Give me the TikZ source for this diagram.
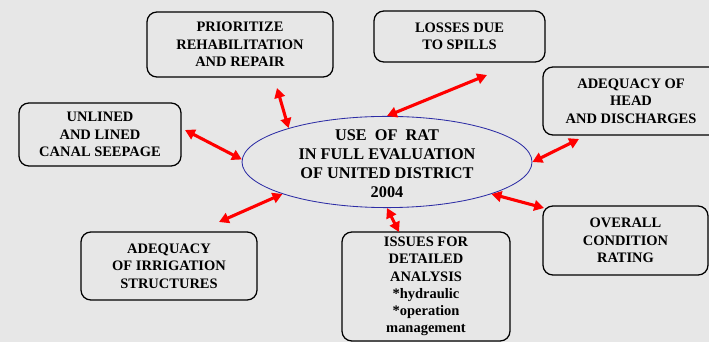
\documentclass[tikz,border=0pt]{standalone}
\usepackage{fontspec}
\setmainfont{Liberation Serif}
\usepackage{tikz}
\usetikzlibrary{arrows.meta,shapes.geometric}

\definecolor{paper}{RGB}{231,231,231}
\definecolor{rim}{RGB}{45,45,165}

\begin{document}
\begin{tikzpicture}[x=1cm,y=1cm,
        topic/.style={draw=black,line width=0.9pt,rounded corners=7pt,align=center,
            inner sep=0pt,font=\fontsize{10.3}{12.3}\selectfont\bfseries},
        hub/.style={ellipse,draw=rim,line width=0.6pt,inner sep=0pt},
        hubtext/.style={align=center,inner sep=0pt,font=\fontsize{11.6}{13.7}\selectfont\bfseries},
        link/.style={red,line width=2.2pt,
            {Triangle[length=7pt,width=7.5pt]}-{Triangle[length=7pt,width=7.5pt]}}]

        % \draw[help lines] (0,0) grid (18,9);

        \def\wide{17.725}
        \def\high{8.55}

        \fill[paper] (0,0) rectangle (\wide,\high);
        \useasboundingbox (0,0) rectangle (\wide,\high);
        \clip (0,0) rectangle (\wide,\high);

        % centre
        \node[hub,minimum width=7.25cm,minimum height=2.28cm] (use) at (9.675,4.5) {};
        \node[hubtext] (usetext) at (9.675,4.46)
            {USE~ OF~ RAT\\IN FULL EVALUATION\\OF UNITED DISTRICT\\2004};

        % boxes round it
        \node[topic,minimum width=4.65cm,minimum height=1.625cm] (prio) at (6.0,7.4375)
            {PRIORITIZE\\REHABILITATION\\AND REPAIR};
        \node[topic,minimum width=4.05cm,minimum height=1.575cm] (seep) at (2.5,5.1875)
            {UNLINED\\AND LINED\\CANAL SEEPAGE};
        \node[topic,minimum width=4.275cm,minimum height=1.275cm] (spill) at (11.4875,7.6375)
            {LOSSES DUE\\TO SPILLS};
        \node[topic,minimum width=4.4cm,minimum height=1.7cm] (head) at (15.775,6.025)
            {ADEQUACY OF\\HEAD\\AND DISCHARGES};
        \node[topic,minimum width=4.4cm,minimum height=1.7cm] (struct) at (4.225,1.9)
            {ADEQUACY\\OF IRRIGATION\\STRUCTURES};
        \node[topic,minimum width=4.2cm,minimum height=2.725cm] (issues) at (10.65,1.3875)
            {ISSUES FOR\\DETAILED\\ANALYSIS\\*hydraulic\\*operation\\management};
        \node[topic,minimum width=4.125cm,minimum height=1.725cm] (rating) at (15.6375,2.5375)
            {OVERALL\\CONDITION\\RATING};

        % free ends of the arrows
        \coordinate (tprio) at (6.925,6.35);
        \coordinate (tseep) at (4.625,5.3);
        \coordinate (tspill) at (12.175,6.675);
        \coordinate (thead) at (14.475,5.075);
        \coordinate (tstruct) at (5.475,3.0);
        \coordinate (tissues) at (9.975,2.75);
        \coordinate (trating) at (13.6,3.35);

        \draw[link] (tprio) -- (use.161.6);
        \draw[link] (tseep) -- (use.179);
        \draw[link] (tspill) -- (use.90);
        \draw[link] (thead) -- (use.0);
        \draw[link] (tstruct) -- (use.197.6);
        \draw[link] (tissues) -- (use.270);
        \draw[link] (trating) -- (use.343.3);
    \end{tikzpicture}
\end{document}
